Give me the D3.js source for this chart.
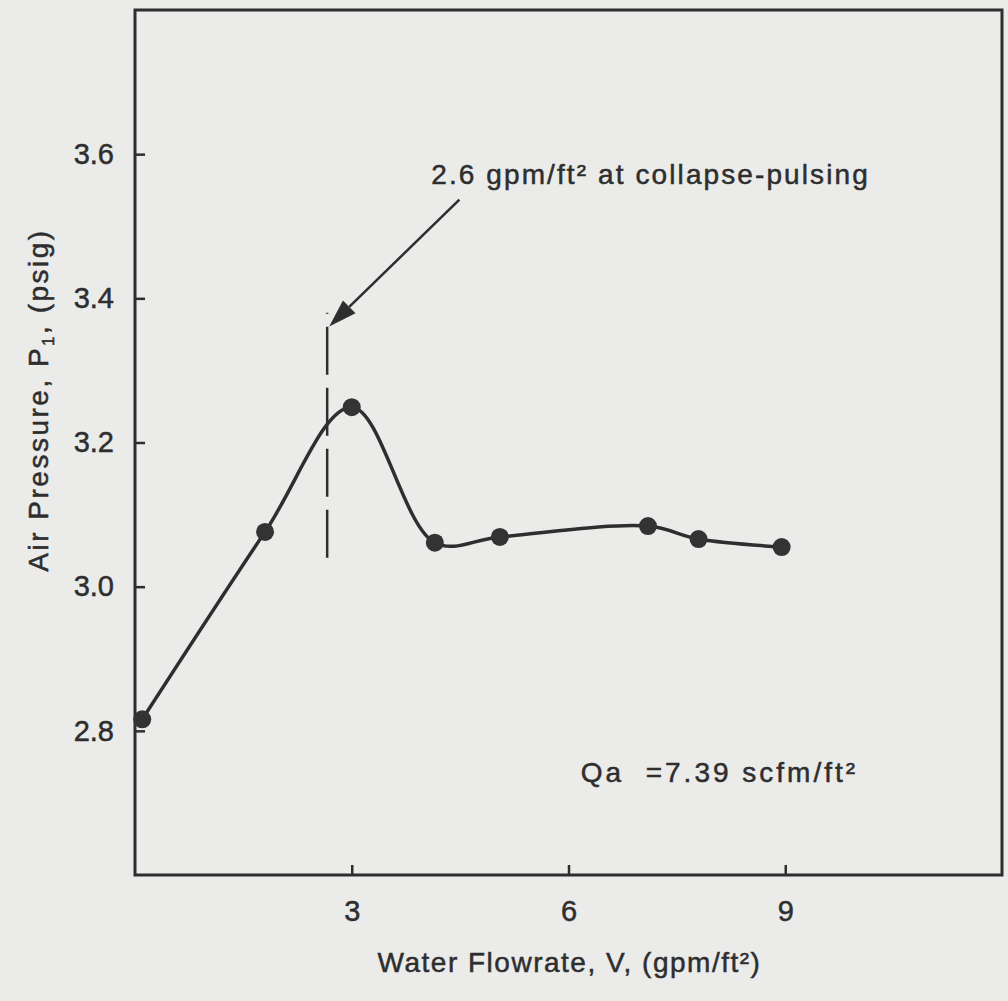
<!DOCTYPE html>
<html>
<head>
<meta charset="utf-8">
<script src="https://cdn.jsdelivr.net/npm/d3@7"></script>
<style>
    body { margin: 0; background: #ebebea; }
    svg { display: block; background: #ebebea; }
    text { font-family: "Liberation Sans", Arial, sans-serif; fill: #2e2e2e; stroke: #2e2e2e; stroke-width: 0.5px; }
</style>
</head>
<body>
<svg id="chart"></svg>
<script>
// Values
const flowrate = [0.1, 1.8, 3.0, 4.15, 5.05, 7.1, 7.8, 8.95];          // V, gpm/ft2
const pressure = [2.816, 3.076, 3.249, 3.061, 3.069, 3.084, 3.066, 3.055]; // P1, psig
const xTicks = [3, 6, 9];
const yTicks = [2.8, 3.0, 3.2, 3.4, 3.6];

// collapse-pulsing marker (dashed vertical line)
const pulseX = 2.66;
const pulseY = [3.04, 3.38];

const ink = "#2e2e2e";
const width = 1008;
const height = 1001;

const svg = d3.select("#chart").attr("width", width).attr("height", height);

const x = d3.scaleLinear().domain([0, 12]).range([135, 1002]);
const y = d3.scaleLinear().domain([2.6, 3.8]).range([875, 10]);

// Axes with inward ticks
svg.append("g")
    .attr("transform", `translate(0,${y(2.6)})`)
    .call(d3.axisBottom(x).tickValues(xTicks).tickSize(-10).tickPadding(25).tickFormat(d3.format("d")))
    .call(g => g.select(".domain").remove())
    .call(g => g.selectAll("line").attr("stroke", ink).attr("stroke-width", 2.5))
    .call(g => g.selectAll("text").attr("font-size", 29).attr("font-family", "Liberation Sans, Arial, sans-serif").attr("fill", ink));

svg.append("g")
    .attr("transform", `translate(${x(0)},0)`)
    .call(d3.axisLeft(y).tickValues(yTicks).tickSize(-10).tickPadding(21).tickFormat(d3.format(".1f")))
    .call(g => g.select(".domain").remove())
    .call(g => g.selectAll("line").attr("stroke", ink).attr("stroke-width", 2.5))
    .call(g => g.selectAll("text").attr("font-size", 29).attr("font-family", "Liberation Sans, Arial, sans-serif").attr("fill", ink));

// Plot frame
svg.append("rect")
    .attr("x", x(0))
    .attr("y", y(3.8))
    .attr("width", x(12) - x(0))
    .attr("height", y(2.6) - y(3.8))
    .attr("fill", "none")
    .attr("stroke", ink)
    .attr("stroke-width", 3);

// Dashed line at collapse-pulsing
svg.append("line")
    .attr("x1", x(pulseX)).attr("x2", x(pulseX))
    .attr("y1", y(pulseY[0])).attr("y2", y(pulseY[1]))
    .attr("stroke", ink)
    .attr("stroke-width", 2.5)
    .attr("stroke-dasharray", "48,13");

// Data curve
const points = flowrate.map((v, i) => [v, pressure[i]]);
const line = d3.line()
    .x(d => x(d[0]))
    .y(d => y(d[1]))
    .curve(d3.curveCatmullRom.alpha(0.5));

svg.append("path")
    .datum(points)
    .attr("d", line)
    .attr("fill", "none")
    .attr("stroke", ink)
    .attr("stroke-width", 3.5);

svg.selectAll("circle.pt")
    .data(points)
    .enter()
    .append("circle")
    .attr("class", "pt")
    .attr("cx", d => x(d[0]))
    .attr("cy", d => y(d[1]))
    .attr("r", 9)
    .attr("fill", "#333");

// Arrow from the note to the dashed line
const tail = [x(4.49), y(3.537)];
const tip = [x(pulseX) + 2, y(3.361)];
const ang = Math.atan2(tip[1] - tail[1], tip[0] - tail[0]);
const headLen = 28, headW = 9;
const base = [tip[0] - headLen * Math.cos(ang), tip[1] - headLen * Math.sin(ang)];

svg.append("line")
    .attr("x1", tail[0]).attr("y1", tail[1])
    .attr("x2", base[0]).attr("y2", base[1])
    .attr("stroke", ink)
    .attr("stroke-width", 2.5);

svg.append("path")
    .attr("d", d3.line()([
        tip,
        [base[0] + headW * Math.sin(ang), base[1] - headW * Math.cos(ang)],
        [base[0] - headW * Math.sin(ang), base[1] + headW * Math.cos(ang)]
    ]) + "Z")
    .attr("fill", ink);

// Annotations
svg.append("text")
    .attr("x", x(4.1))
    .attr("y", y(3.558))
    .attr("font-size", 28)
    .attr("letter-spacing", 2.1)
    .text("2.6 gpm/ft² at collapse-pulsing");

svg.append("text")
    .attr("x", x(6.17))
    .attr("y", y(2.729))
    .attr("font-size", 28)
    .attr("letter-spacing", 3)
    .style("white-space", "pre")
    .text("Qa  =7.39 scfm/ft²");

// Axis titles
svg.append("text")
    .attr("x", (x(0) + x(12)) / 2 + 1)
    .attr("y", 972)
    .attr("text-anchor", "middle")
    .attr("font-size", 28)
    .attr("letter-spacing", 1.5)
    .text("Water Flowrate, V, (gpm/ft²)");

const yTitle = svg.append("text")
    .attr("transform", "translate(48,400) rotate(-90)")
    .attr("text-anchor", "middle")
    .attr("font-size", 28)
    .attr("letter-spacing", 2.5);
yTitle.append("tspan").text("Air Pressure, P");
yTitle.append("tspan").attr("font-size", 17).attr("dy", 6).text("1");
yTitle.append("tspan").attr("dy", -6).text(", (psig)");
</script>
</body>
</html>
